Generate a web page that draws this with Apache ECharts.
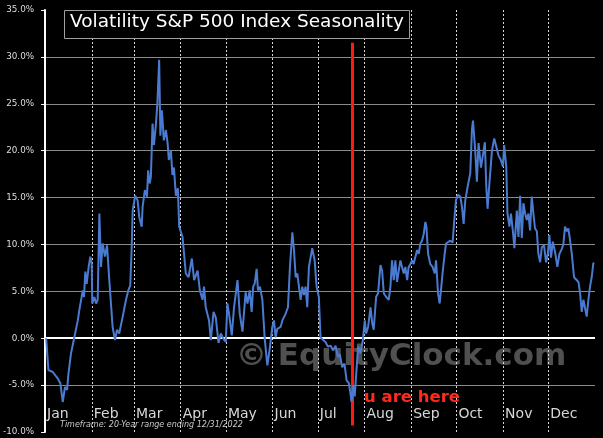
<!DOCTYPE html>
<html>
<head>
<meta charset="utf-8">
<script src="https://cdn.jsdelivr.net/npm/echarts@6/dist/echarts.min.js"></script>
<style>html,body{margin:0;padding:0;background:#000;}#c{width:603px;height:438px;}</style>
</head>
<body>
<div id="c"></div>
<script>
// Day of year (0-365) for each point
const days = [0.7,2.2,5.1,8.4,10.1,11.7,13.2,14.6,15.4,17.2,18.5,19.4,21.7,22.7,23.8,25.0,25.8,26.7,27.6,28.9,30.0,30.9,31.3,32.7,33.8,34.9,36.0,37.1,38.2,38.9,39.7,41.1,42.6,44.8,46.4,47.7,49.2,51.5,53.7,55.2,56.5,57.4,58.1,59.8,61.4,62.5,64.1,64.7,66.2,67.6,68.4,69.4,70.2,
71.3,72.2,73.5,74.5,75.7,76.5,77.5,78.8,80.2,81.3,82.1,83.5,84.5,85.5,86.8,88.1,89.0,91.2,93.4,95.2,97.4,98.9,101.2,102.7,104.5,105.5,106.6,108.8,110.0,111.8,113.3,115.1,116.6,118.1,119.9,121.0,122.1,123.9,125.4,127.7,129.2,131.0,133.1,134.3,135.8,137.1,138.1,139.1,140.4,141.3,142.6,144.2,145.7,147.5,149.2,150.8,151.9,153.0,154.1,156.3,157.5,158.5,159.6,161.2,162.5,164.1,165.2,166.3,167.4,168.5,169.6,170.7,171.8,172.9,174.0,175.1,177.3,178.9,180.2,181.7,182.8,184.6,186.1,187.7,189.5,191.2,192.8,194.3,195.6,197.2,198.7,200.1,201.6,202.7,203.4,204.5,205.5,206.5,207.8,209.3,210.9,212.2,213.1,214.4,216.0,217.1,218.1,219.7,221.0,222.6,223.7,224.8,226.4,228.1,229.2,230.3,231.4,232.5,233.6,234.7,235.8,236.9,238.0,239.1,240.3,241.3,242.4,243.6,244.6,245.8,246.9,248.0,249.1,250.2,251.3,252.4,253.1,254.2,255.7,257.2,258.6,259.5,260.8,261.9,263.0,263.8,265.2,266.1,267.4,268.9,270.5,271.6,272.7,274.0,275.6,276.7,277.8,278.9,280.4,282.2,283.3,284.0,285.5,286.6,287.7,289.3,290.6,291.9,292.8,293.7,295.0,296.6,298.1,299.4,300.9,302.5,303.9,304.7,306.1,306.9,308.2,309.2,310.5,311.5,313.1,314.2,315.3,316.4,317.5,318.6,319.7,320.8,321.9,323.0,324.1,325.2,326.4,327.4,328.6,329.7,331.2,332.5,333.7,334.7,335.8,337.0,338.5,340.0,341.4,342.9,344.0,345.1,346.3,347.3,348.4,349.6,351.1,352.4,354.0,355.1,356.2,357.3,358.4,359.5,360.6,361.7,362.8,363.9,364.6];
// Seasonal change (%)
const vol = [0,-3.4,-3.6,-4.3,-4.8,-6.8,-5.2,-5.5,-3.9,-1.6,-1.5,0.1,1.9,3.0,2.9,5.1,4.4,7.1,5.8,7.6,8.7,8.0,3.7,4.4,3.7,4.1,13.3,7.6,10.1,10.1,8.7,9.9,6.2,1.2,-0.2,0.9,0.5,2.3,4.1,5.1,5.6,9.4,13.6,15.2,14.7,12.9,11.9,14.0,15.8,15.1,17.9,16.5,17.2,
22.9,20.6,22.7,25.0,29.7,21.6,24.3,21.1,22.2,20.8,19.0,20.0,17.4,18.2,15.2,16.0,11.9,10.8,6.9,6.5,8.5,6.2,7.2,5.1,4.1,5.5,3.3,1.9,-0.2,2.8,2.2,-0.5,0.5,0,-0.4,3.7,2.6,0.3,3.3,6.2,2.6,0.7,4.9,3.7,5.1,2.8,5.5,5.8,7.4,5.1,5.5,4.1,0.1,-2.9,-1.0,1.2,1.9,0.1,1.0,1.2,1.9,1.8,2.6,3.3,7.6,11.3,9.4,6.5,6.9,5.5,4.1,5.5,4.6,5.5,3.3,7.6,9.6,8.3,5.5,4.4,0.1,-0.2,-0.4,-0.9,-0.8,-1.3,-0.8,-2.0,-1.7,-3.1,-2.7,-4.5,-4.8,-5.9,-6.8,-5.0,-6.2,-3.8,-0.9,-1.6,-0.2,1.9,0.5,1.2,3.3,1.6,0.9,4.4,4.8,7.8,7.2,4.8,4.4,4.1,5.5,8.3,6.2,8.3,6.0,5.8,8.3,7.6,6.9,7.6,6.2,7.6,7.9,8.3,7.9,8.7,9.4,9.0,10.1,10.4,11.1,12.4,11.9,9.0,7.9,7.6,6.9,8.3,4.8,3.7,5.5,6.9,9.0,10.1,9.9,10.4,10.2,12.6,14.7,15.3,15.1,14.0,12.2,14.7,16.1,17.6,22.2,23.2,20.0,16.7,20.8,18.2,18.2,20.9,16.3,13.8,16.7,20.0,21.3,21.5,19.5,19.0,18.3,20.6,18.3,13.3,11.9,13.3,11.4,9.6,13.6,10.8,15.2,10.7,14.4,13.3,12.6,13.3,11.5,15.1,13.3,11.7,11.4,9.0,8.1,9.7,9.9,8.1,9.0,11.0,8.6,10.3,9.2,7.6,9.0,9.5,10.0,11.9,11.4,11.7,10.5,9.0,6.5,6.4,6.0,4.8,2.8,4.1,4.3,2.3,4.1,5.5,6.5,8.0,8.0];
const monthStarts = [0,31,59,90,120,151,181,212,243,273,304,334];
const monthNames = ['Jan','Feb','Mar','Apr','May','Jun','Jul','Aug','Sep','Oct','Nov','Dec'];
const yTicks = [-10,-5,0,5,10,15,20,25,30,35];
const todayDay = 204;
const titleText = 'Volatility S&P 500 Index Seasonality';
const noteText = 'Timeframe: 20-Year range ending 12/31/2022';

const chart = echarts.init(document.getElementById('c'), null, {renderer:'canvas'});
const pts = days.map((d,i)=>[d, vol[i]]);
const markData = monthStarts.slice(1).map(d => ({xAxis:d, lineStyle:{color:'#d8d8d8', type:[2,2], width:1}}));
markData.push({yAxis:0, lineStyle:{color:'#ffffff', type:'solid', width:2}});
markData.push([{coord:[todayDay, 31.5], lineStyle:{color:'#ff1a10', type:'solid', width:3}}, {coord:[todayDay, -9.3]}]);

chart.setOption({
  backgroundColor:'#000000',
  animation:false,
  grid:{left:44, right:8, top:10, bottom:6},
  xAxis:{
    type:'value', min:0, max:365,
    axisLine:{show:false}, axisTick:{show:false}, splitLine:{show:false},
    axisLabel:{
      customValues: monthStarts,
      inside:true, margin:11, align:'left', padding:[0,0,0,2],
      color:'#d8d8d8', fontSize:14, fontFamily:'DejaVu Sans',
      formatter: v => monthNames[monthStarts.indexOf(Math.round(v))] || ''
    }
  },
  yAxis:{
    type:'value', min:yTicks[0], max:yTicks[yTicks.length-1], interval:5,
    axisLine:{show:true, lineStyle:{color:'#ffffff', width:2}},
    axisTick:{show:true, length:4, lineStyle:{color:'#ffffff'}},
    axisLabel:{color:'#dddddd', fontSize:8.8, fontFamily:'DejaVu Sans', margin:11, formatter: v => v.toFixed(1)+'%'},
    splitLine:{show:true, showMinLine:false, showMaxLine:false, lineStyle:{color:'#8a8a8a', width:1, type:'solid'}}
  },
  graphic:[
    {type:'text', left:236, top:341, z:1, style:{text:'\u00A9 EquityClock.com', fill:'#505050', font:'bold 31px "DejaVu Sans"'}},
    {type:'rect', z:100, shape:{x:64.5, y:10.5, width:345, height:28}, style:{fill:'#000', stroke:'#a0a0a0', lineWidth:1}},
    {type:'text', z:101, left:70, top:13, style:{text:titleText, fill:'#ffffff', font:'18.5px "DejaVu Sans"'}},
    {type:'text', z:101, left:364, top:389, style:{text:'u are here', fill:'#ff2a1a', font:'bold 16.5px "DejaVu Sans"'}},
    {type:'text', z:101, left:60, top:421, style:{text:noteText, fill:'#cccccc', font:'italic 8px "DejaVu Sans"'}}
  ],
  series:[{
    type:'line', data:pts, showSymbol:false, z:3,
    lineStyle:{color:'#4a7bd0', width:2},
    markLine:{silent:true, symbol:['none','none'], label:{show:false}, animation:false, z:2, data:markData}
  }]
});
</script>
</body>
</html>
